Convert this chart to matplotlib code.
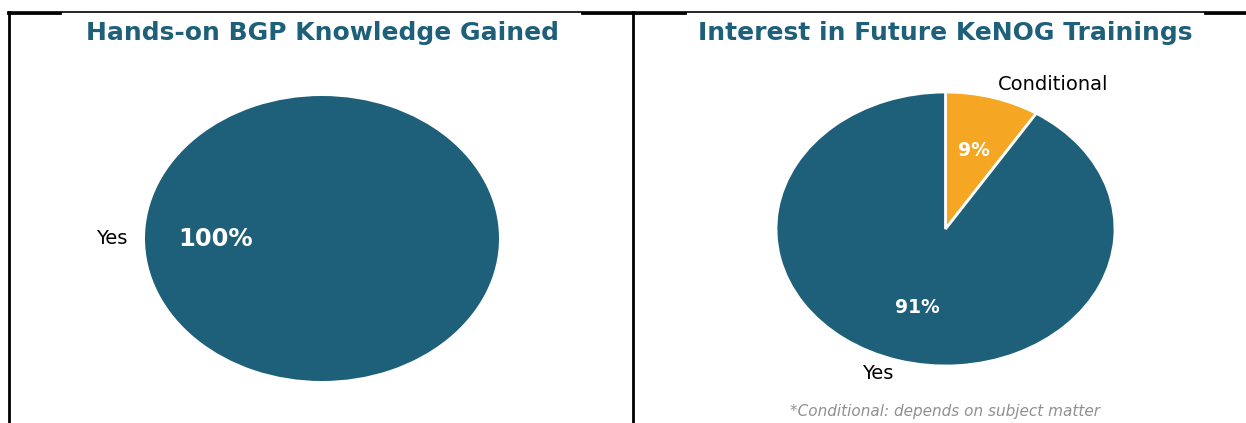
import matplotlib.pyplot as plt
from matplotlib.lines import Line2D

plt.rcParams["font.family"] = "DejaVu Sans"

# data
left_labels = ["Yes"]
left_values = [100]
right_labels = ["Conditional", "Yes"]
right_values = [9, 91]

teal = "#1e5f7a"
orange = "#f5a623"

W, H = 1246, 423
fig = plt.figure(figsize=(W / 100, H / 100), dpi=100)

def px_axes(x0, x1, y0, y1):
    # pixel box (top-down y) -> axes
    return fig.add_axes([x0 / W, (H - y1) / H, (x1 - x0) / W, (y1 - y0) / H])

# left pie
ax1 = px_axes(145, 499, 96, 381)
w, t, a = ax1.pie(left_values, labels=left_labels, colors=[teal], autopct="%d%%",
                  startangle=0, textprops={"fontsize": 14})
for tx in a:
    tx.set_color("white")
    tx.set_fontweight("bold")
    tx.set_fontsize(17.5)
ax1.set_aspect("auto")
ax1.set_xlim(-1, 1)
ax1.set_ylim(-1, 1)

# right pie
ax2 = px_axes(776, 1115, 92, 366)
w, t, a = ax2.pie(right_values, labels=right_labels, colors=[orange, teal], autopct="%d%%",
                  startangle=90, counterclock=False,
                  wedgeprops={"edgecolor": "white", "linewidth": 2},
                  textprops={"fontsize": 14})
for tx in a:
    tx.set_color("white")
    tx.set_fontweight("bold")
    tx.set_fontsize(13.5)
ax2.set_aspect("auto")
ax2.set_xlim(-1, 1)
ax2.set_ylim(-1, 1)

fig.text(322 / W, 1 - 33 / H, "Hands-on BGP Knowledge Gained", ha="center", va="center",
         fontsize=18, fontweight="bold", color=teal)
fig.text(945 / W, 1 - 33 / H, "Interest in Future KeNOG Trainings", ha="center", va="center",
         fontsize=18, fontweight="bold", color=teal)
fig.text(945 / W, 1 - 411 / H, "*Conditional: depends on subject matter", ha="center", va="center",
         fontsize=11, style="italic", color="#909090")

# frame lines
def hline(x0, x1, y, lw):
    fig.add_artist(Line2D([x0 / W, x1 / W], [1 - y / H, 1 - y / H], color="black", lw=lw))

def vline(x, y0, y1, lw):
    fig.add_artist(Line2D([x / W, x / W], [1 - y0 / H, 1 - y1 / H], color="black", lw=lw))

hline(8, 1246, 12.5, 1.2)
hline(8, 60, 13, 2)
hline(582, 685, 13, 2)
hline(1205, 1246, 13, 2)
vline(9, 12, 423, 2)
vline(633, 12, 423, 2)

fig.savefig("out.png", dpi=100)
